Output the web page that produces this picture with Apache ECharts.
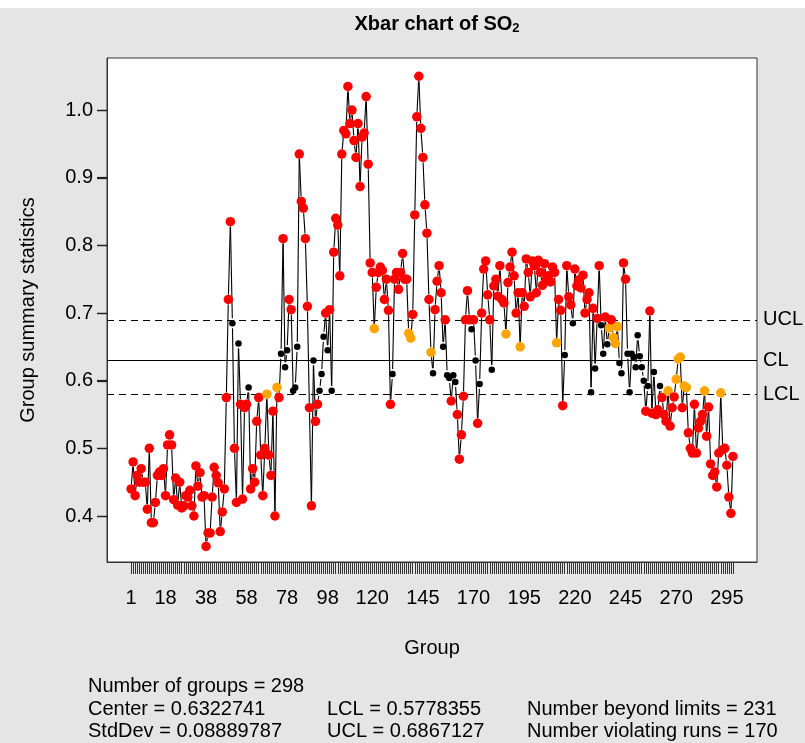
<!DOCTYPE html>
<html>
<head>
<meta charset="utf-8">
<script src="https://cdn.jsdelivr.net/npm/echarts@6/dist/echarts.min.js"></script>
<style>
  html, body { margin: 0; padding: 0; background: #ffffff; }
  #chart { width: 805px; height: 743px; }
</style>
</head>
<body>
<div id="chart"></div>
<script>
// group means, groups 1..298
const groupValues = [
  0.44, 0.48, 0.43, 0.46, 0.45, 0.47, 0.45, 0.45, 0.41, 0.50,
  0.39, 0.39, 0.42, 0.46, 0.465, 0.46, 0.47, 0.43, 0.505, 0.52,
  0.505, 0.424, 0.456, 0.416, 0.45, 0.412, 0.415, 0.43, 0.428, 0.438,
  0.415, 0.40, 0.474, 0.444, 0.464, 0.428, 0.43, 0.355, 0.375, 0.375,
  0.428, 0.472, 0.46, 0.449, 0.377, 0.406, 0.44, 0.575, 0.72, 0.835,
  0.685, 0.50, 0.42, 0.655, 0.565, 0.425, 0.56, 0.565, 0.59, 0.44,
  0.47, 0.45, 0.54, 0.575, 0.49, 0.43, 0.50, 0.58, 0.49, 0.46,
  0.555, 0.40, 0.59, 0.575, 0.64, 0.81, 0.62, 0.645, 0.72, 0.705,
  0.585, 0.59, 0.65, 0.935, 0.865, 0.855, 0.81, 0.71, 0.56, 0.415,
  0.63, 0.54, 0.565, 0.585, 0.61, 0.665, 0.70, 0.645, 0.705, 0.585,
  0.79, 0.84, 0.83, 0.755, 0.935, 0.97, 0.965, 1.035, 0.98, 1.0,
  0.955, 0.93, 0.98, 0.887, 0.96, 0.966, 1.02, 0.92, 0.774, 0.76,
  0.677, 0.738, 0.76, 0.768, 0.763, 0.72, 0.75, 0.704, 0.565, 0.61,
  0.75, 0.76, 0.735, 0.76, 0.788, 0.75, 0.75, 0.67, 0.663, 0.698,
  0.845, 0.99, 1.05, 0.973, 0.93, 0.86, 0.818, 0.72, 0.642, 0.611,
  0.705, 0.747, 0.77, 0.73, 0.65, 0.69, 0.608, 0.604, 0.57, 0.608,
  0.598, 0.55, 0.484, 0.52, 0.577, 0.69, 0.733, 0.69, 0.676, 0.69,
  0.63, 0.537, 0.595, 0.70, 0.765, 0.777, 0.727, 0.69, 0.616, 0.74,
  0.75, 0.725, 0.77, 0.72, 0.715, 0.669, 0.745, 0.768, 0.79, 0.755,
  0.70, 0.73, 0.65, 0.73, 0.71, 0.78, 0.76, 0.724, 0.777, 0.77,
  0.73, 0.778, 0.76, 0.741, 0.773, 0.749, 0.755, 0.746, 0.768, 0.76,
  0.656, 0.72, 0.704, 0.563, 0.638, 0.77, 0.724, 0.712, 0.685, 0.765,
  0.74, 0.749, 0.737, 0.756, 0.70, 0.72, 0.73, 0.583, 0.707, 0.618,
  0.692, 0.77, 0.682, 0.64, 0.694, 0.654, 0.678, 0.69, 0.664, 0.655,
  0.68, 0.626, 0.611, 0.774, 0.75, 0.64, 0.583, 0.64, 0.635, 0.62,
  0.667, 0.636, 0.62, 0.60, 0.555, 0.592, 0.703, 0.552, 0.613, 0.55,
  0.557, 0.592, 0.575, 0.55, 0.54, 0.585, 0.533, 0.56, 0.576, 0.602,
  0.632, 0.635, 0.56, 0.592, 0.59, 0.523, 0.50, 0.493, 0.565, 0.493,
  0.53, 0.54, 0.55, 0.585, 0.518, 0.561, 0.477, 0.46, 0.465, 0.443,
  0.493, 0.582, 0.498, 0.50, 0.475, 0.428, 0.404, 0.488
];

// groups drawn orange (violating runs, inside the limits)
const runGroups = [68, 73, 121, 138, 139, 149, 186, 193, 211, 237, 239, 240, 241,
  266, 270, 271, 272, 274, 275, 284, 292];

// control limits
const centerLine = 0.6322741;
const lowerLimit = 0.5778355;
const upperLimit = 0.6867127;

// axis labels
const xTickLabels = [1, 18, 38, 58, 78, 98, 120, 145, 170, 195, 220, 245, 270, 295];
const yTickLabels = [0.4, 0.5, 0.6, 0.7, 0.8, 0.9, 1.0];

// summary lines under the plot
const summaryCol1 = ['Number of groups = 298', 'Center = 0.6322741', 'StdDev = 0.08889787'];
const summaryCol2 = ['LCL = 0.5778355', 'UCL = 0.6867127'];
const summaryCol3 = ['Number beyond limits = 231', 'Number violating runs = 170'];

const FONT = '"Liberation Sans", Arial, sans-serif';
const X_MIN = -10.88, X_MAX = 309.88;

const points = groupValues.map((v, i) => [i + 1, v]);
const groupTicks = points.map(p => p[0]);

function pointColor(g, v) {
  if (v > upperLimit || v < lowerLimit) return '#ff0000';
  if (runGroups.indexOf(g) >= 0) return '#ffa500';
  return '#000000';
}

// R type="b": line segments stop short of each point
const GAP = 5;
function renderSegment(params, api) {
  const i = params.dataIndex;
  if (i >= points.length - 1) return null;
  const p0 = api.coord(points[i]);
  const p1 = api.coord(points[i + 1]);
  const dx = p1[0] - p0[0], dy = p1[1] - p0[1];
  const len = Math.sqrt(dx * dx + dy * dy);
  if (len <= 2 * GAP) return null;
  const ux = dx / len, uy = dy / len;
  return {
    type: 'line',
    shape: {
      x1: p0[0] + ux * GAP, y1: p0[1] + uy * GAP,
      x2: p1[0] - ux * GAP, y2: p1[1] - uy * GAP
    },
    style: { stroke: '#000', lineWidth: 1.1 }
  };
}

const graphics = [
  { type: 'rect', shape: { x: 0, y: 0, width: 805, height: 8 }, style: { fill: '#ffffff' }, silent: true },
  {
    type: 'text', x: 437, y: 24,
    style: {
      text: 'Xbar chart of SO{s|2}', fontFamily: FONT, fontSize: 20, fontWeight: 'bold',
      fill: '#000', align: 'center', verticalAlign: 'middle',
      rich: { s: { fontSize: 13, fontWeight: 'bold', fontFamily: FONT, padding: [9, 0, 0, 0] } }
    }
  },
  {
    type: 'text', x: 28, y: 310, rotation: Math.PI / 2,
    style: { text: 'Group summary statistics', fontFamily: FONT, fontSize: 20, fill: '#000', align: 'center', verticalAlign: 'middle' }
  },
  {
    type: 'text', x: 432, y: 648,
    style: { text: 'Group', fontFamily: FONT, fontSize: 20, fill: '#000', align: 'center', verticalAlign: 'middle' }
  }
];
const rowY = [686, 709, 731];
summaryCol1.forEach((t, k) => graphics.push({ type: 'text', x: 88, y: rowY[k], style: { text: t, fontFamily: FONT, fontSize: 20, fill: '#000', verticalAlign: 'middle' } }));
summaryCol2.forEach((t, k) => graphics.push({ type: 'text', x: 327, y: rowY[k + 1], style: { text: t, fontFamily: FONT, fontSize: 20, fill: '#000', verticalAlign: 'middle' } }));
summaryCol3.forEach((t, k) => graphics.push({ type: 'text', x: 527, y: rowY[k + 1], style: { text: t, fontFamily: FONT, fontSize: 20, fill: '#000', verticalAlign: 'middle' } }));

const chart = echarts.init(document.getElementById('chart'), null, { renderer: 'canvas' });
chart.setOption({
  animation: false,
  backgroundColor: '#e5e5e5',
  textStyle: { fontFamily: FONT },
  grid: {
    left: 107, right: 48, top: 58, bottom: 181,
    show: true, backgroundColor: '#ffffff', borderColor: '#333', borderWidth: 1
  },
  xAxis: {
    type: 'value', min: X_MIN, max: X_MAX,
    axisLine: { show: true, onZero: false, lineStyle: { color: '#333', width: 1 } },
    splitLine: { show: false },
    axisTick: { show: true, length: 12, customValues: groupTicks, lineStyle: { color: '#333', width: 1 } },
    axisLabel: { customValues: xTickLabels, fontSize: 20, color: '#000', margin: 26, fontFamily: FONT }
  },
  yAxis: {
    type: 'value', min: 0.332, max: 1.077,
    axisLine: { show: true, onZero: false, lineStyle: { color: '#333', width: 1 } },
    splitLine: { show: false },
    axisTick: { show: true, length: 10, customValues: yTickLabels, lineStyle: { color: '#222', width: 1.2 } },
    axisLabel: { customValues: yTickLabels, fontSize: 20, color: '#000', margin: 14, fontFamily: FONT,
      formatter: v => v.toFixed(1) }
  },
  graphic: graphics,
  series: [
    {
      type: 'custom', name: 'line', data: points, z: 2,
      encode: { x: 0, y: 1 }, renderItem: renderSegment, silent: true
    },
    {
      type: 'scatter', name: 'groups', data: points, z: 3, silent: true,
      symbol: 'circle',
      symbolSize: (val) => pointColor(val[0], val[1]) === '#000000' ? 6.5 : 9.5,
      itemStyle: { opacity: 1, color: (p) => pointColor(p.value[0], p.value[1]) },
      markLine: {
        silent: true, symbol: ['none', 'none'], z: 1,
        label: { position: 'end', formatter: '{b}', fontSize: 20, color: '#000', distance: 6, fontFamily: FONT },
        data: [
          { name: 'UCL', yAxis: upperLimit, lineStyle: { color: '#000', width: 1, type: [7, 5] } },
          { name: 'CL', yAxis: centerLine, lineStyle: { color: '#000', width: 1, type: 'solid' } },
          { name: 'LCL', yAxis: lowerLimit, lineStyle: { color: '#000', width: 1, type: [7, 5] } }
        ]
      }
    }
  ]
});

// y tick marks placed through the axis scale, outward from the frame
yTickLabels.forEach(v => {
  const p = chart.convertToPixel({ gridIndex: 0 }, [X_MIN, v]);
  graphics.push({
    type: 'line', z: 100, silent: true,
    shape: { x1: p[0] - 10, y1: Math.round(p[1]) + 0.5, x2: p[0], y2: Math.round(p[1]) + 0.5 },
    style: { stroke: '#222', lineWidth: 1.3 }
  });
});
chart.setOption({ graphic: graphics });
</script>
</body>
</html>
